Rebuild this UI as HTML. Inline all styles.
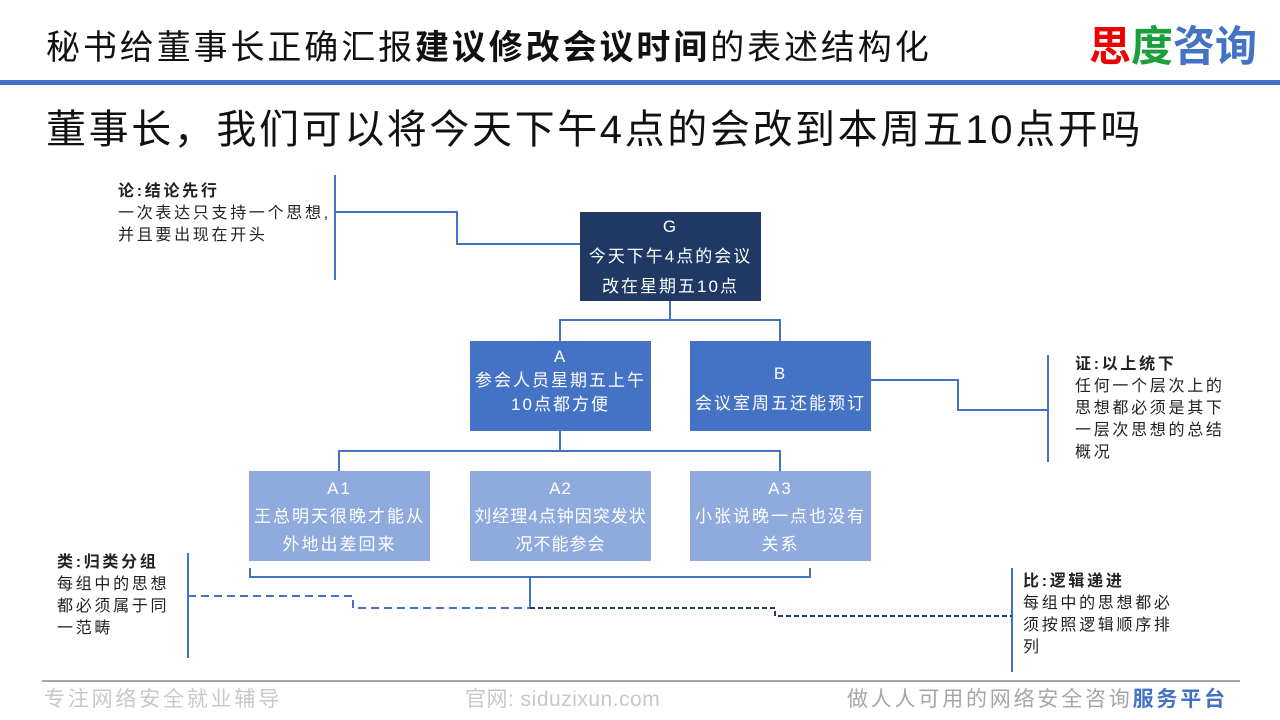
<!DOCTYPE html>
<html><head><meta charset="utf-8"><style>
body{margin:0;width:1280px;height:720px;position:relative;background:#fff;overflow:hidden;font-family:"Liberation Sans","Noto Sans CJK SC",sans-serif;}
.a{position:absolute;white-space:nowrap}
.box{position:absolute;color:#fff;text-align:center;font-size:17px;line-height:24px;box-sizing:border-box;padding-top:2px;letter-spacing:2px;white-space:nowrap}
.note{position:absolute;font-size:16px;line-height:22px;color:#222;white-space:nowrap;letter-spacing:2.7px}
.note b{font-weight:bold}
</style></head><body>
<div class="a" style="left:46px;top:26px;font-size:34px;line-height:44px;color:#111;letter-spacing:2.9px">秘书给董事长正确汇报<b>建议修改会议时间</b>的表述结构化</div>
<div class="a" style="left:1089px;top:23px;font-size:42px;line-height:48px;font-weight:bold"><span style="color:#e00">思</span><span style="color:#1a9f3c">度</span><span style="color:#4472c4">咨询</span></div>
<div class="a" style="left:0;top:80px;width:1280px;height:5px;background:#4472c4"></div>
<div class="a" style="left:46px;top:105px;font-size:40px;line-height:50px;color:#111;letter-spacing:2.6px">董事长，我们可以将今天下午4点的会改到本周五10点开吗</div>

<svg class="a" style="left:0;top:0" width="1280" height="720">
<g stroke="#4472c4" stroke-width="2" fill="none">
<path d="M670 301V320M560 341V320H780V341"/>
<path d="M560 431V451M339 471V451H780V471"/>
<path d="M250 568V577H810V568M530 577V607"/>
<path d="M335 175V280M335 212H457V244H580"/>
<path d="M1048 355V462M871 380H958V410H1048"/>
<path d="M188 553V658M1012 568V672"/>
<path d="M188 596H353V608H530" stroke-dasharray="8 5"/>
</g>
<path d="M530 608H775V616H1012" stroke="#1f3864" stroke-width="2" fill="none" stroke-dasharray="5 3"/>
<line x1="42" y1="681" x2="1240" y2="681" stroke="#a6a6a6" stroke-width="2"/>
</svg>

<div class="box" style="left:580px;top:212px;width:181px;height:89px;background:#1f3864;padding-top:0;line-height:30px">G<br>今天下午4点的会议<br>改在星期五10点</div>
<div class="box" style="left:470px;top:341px;width:181px;height:90px;background:#4472c4;padding-top:4px">A<br>参会人员星期五上午<br>10点都方便</div>
<div class="box" style="left:690px;top:341px;width:181px;height:90px;background:#4472c4;padding-top:18px;line-height:30px">B<br>会议室周五还能预订</div>
<div class="box" style="left:249px;top:471px;width:181px;height:90px;background:#8faadc;padding-top:4px;line-height:28px">A1<br>王总明天很晚才能从<br>外地出差回来</div>
<div class="box" style="left:470px;top:471px;width:181px;height:90px;background:#8faadc;padding-top:4px;line-height:28px;letter-spacing:1px">A2<br>刘经理4点钟因突发状<br>况不能参会</div>
<div class="box" style="left:690px;top:471px;width:181px;height:90px;background:#8faadc;padding-top:4px;line-height:28px">A3<br>小张说晚一点也没有<br>关系</div>

<div class="note" style="left:118px;top:181px"><b>论:结论先行</b><br>一次表达只支持一个思想,<br>并且要出现在开头</div>
<div class="note" style="left:1075px;top:354px"><b>证:以上统下</b><br>任何一个层次上的<br>思想都必须是其下<br>一层次思想的总结<br>概况</div>
<div class="note" style="left:57px;top:552px"><b>类:归类分组</b><br>每组中的思想<br>都必须属于同<br>一范畴</div>
<div class="note" style="left:1023px;top:571px"><b>比:逻辑递进</b><br>每组中的思想都必<br>须按照逻辑顺序排<br>列</div>

<div class="a" style="left:44px;top:686px;font-size:21px;line-height:28px;color:#c8c8c8;letter-spacing:2.8px">专注网络安全就业辅导</div>
<div class="a" style="left:465px;top:686px;font-size:21px;line-height:28px;color:#c8c8c8;letter-spacing:0.5px">官网: siduzixun.com</div>
<div class="a" style="left:847px;top:686px;font-size:21px;line-height:28px;color:#a6a6a6;letter-spacing:2.8px">做人人可用的网络安全咨询<span style="color:#4472c4;font-weight:bold">服务平台</span></div>
</body></html>
